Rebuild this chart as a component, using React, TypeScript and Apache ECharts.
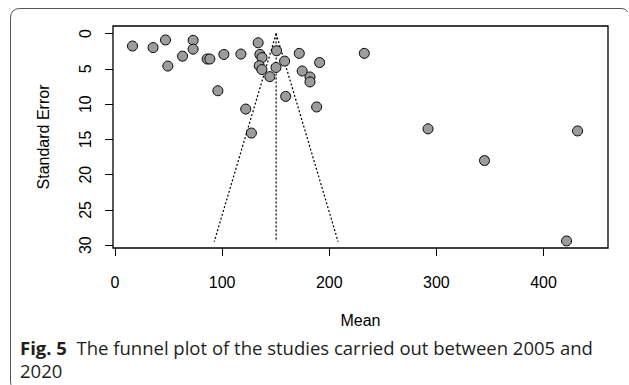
import React, { useEffect, useRef } from "react";
import * as echarts from "echarts";

// Study estimates (Mean) and their standard errors
const studyMeans: number[] = [
  16.3, 35.5, 47.1, 49.3, 63.0, 72.9, 72.9, 86.0, 88.5, 96.0,
  101.6, 117.5, 122.0, 127.3, 133.6, 135.2, 137.2, 134.6, 137.1, 144.5,
  150.3, 150.8, 158.3, 159.3, 172.0, 174.7, 182.0, 182.0, 188.2, 191.0,
  232.7, 292.2, 344.9, 421.5, 431.8,
];
const studySEs: number[] = [
  1.76, 1.98, 0.9, 4.6, 3.2, 0.95, 2.2, 3.6, 3.6, 8.1,
  2.95, 2.9, 10.7, 14.1, 1.3, 2.95, 3.4, 4.55, 5.1, 6.1,
  4.8, 2.43, 3.9, 8.9, 2.8, 5.3, 6.15, 6.85, 10.4, 4.1,
  2.8, 13.5, 18.0, 29.4, 13.8,
];

// Funnel: pooled estimate and the standard-error depth of the funnel
const pooledMean = 150.4;
const funnelSEMax = 29.5;
const zCrit = 1.96;

const xTicks: number[] = [0, 100, 200, 300, 400];
const yTicks: number[] = [0, 5, 10, 15, 20, 25, 30];

const xLabel = "Mean";
const yLabel = "Standard Error";
const captionBold = "Fig. 5";
const captionLine1 = "The funnel plot of the studies carried out between 2005 and";
const captionLine2 = "2020";

echarts.graphic.registerShape(
  "figFrame",
  echarts.graphic.extendPath(
    "M 17 389 Q 10.5 389 10.5 381 L 10.5 18 Q 10.5 8.5 20 8.5 L 622 8.5 Q 626 8.5 627.5 12",
    {}
  ) as any
);

export default function App() {
  const ref = useRef<HTMLDivElement>(null);

  useEffect(() => {
    document.body.style.margin = "0";
    if (!ref.current) return;
    const chart = echarts.init(ref.current, undefined, { renderer: "svg" });

    const points = studyMeans.map((m, i) => [m, studySEs[i]]);
    const halfWidth = zCrit * funnelSEMax;
    const leftLine = [
      [pooledMean, 0],
      [pooledMean - halfWidth, funnelSEMax],
    ];
    const rightLine = [
      [pooledMean, 0],
      [pooledMean + halfWidth, funnelSEMax],
    ];
    const centerLine = [
      [pooledMean, 0],
      [pooledMean, funnelSEMax],
    ];

    const axisFont = {
      fontFamily: "Liberation Sans, Arial, sans-serif",
      fontSize: 16,
      color: "#000",
    };

    const dotted = {
      type: "line",
      showSymbol: false,
      symbol: "none",
      silent: true,
      lineStyle: { color: "#000", width: 1.2, type: [2, 2] },
      z: 2,
    };

    const captionFont = "Open Sans, Noto Sans, sans-serif";

    chart.setOption({
      animation: false,
      backgroundColor: "#fff",
      grid: { left: 113, top: 26, width: 495, height: 222, show: true, borderColor: "#000", borderWidth: 1.3, backgroundColor: "transparent" },
      xAxis: {
        type: "value",
        position: "bottom",
        min: -1.9,
        max: 460.2,
        name: xLabel,
        nameLocation: "middle",
        nameGap: 64,
        nameTextStyle: axisFont,
        splitLine: { show: false },
        axisLine: { show: false, onZero: false },
        axisTick: { show: true, inside: false, length: 8, lineStyle: { color: "#000", width: 1 }, customValues: xTicks },
        axisLabel: { ...axisFont, margin: 26, customValues: xTicks },
      },
      yAxis: {
        type: "value",
        position: "left",
        inverse: true,
        min: -1.08,
        max: 30.4,
        name: yLabel,
        nameLocation: "middle",
        nameRotate: 90,
        nameGap: 62,
        nameTextStyle: axisFont,
        splitLine: { show: false },
        axisLine: { show: false, onZero: false },
        axisTick: { show: true, inside: false, length: 8, lineStyle: { color: "#000", width: 1 }, customValues: yTicks },
        axisLabel: { ...axisFont, margin: 20, rotate: 90, customValues: yTicks },
      },
      series: [
        { ...dotted, data: leftLine },
        { ...dotted, data: rightLine },
        { ...dotted, data: centerLine },
        {
          type: "scatter",
          data: points,
          symbol: "circle",
          symbolSize: 10,
          itemStyle: { color: "#9c9c9c", borderColor: "#000", borderWidth: 1, opacity: 1 },
          z: 3,
        },
      ],
      graphic: [
        {
          type: "figFrame",
          x: 0,
          y: 0,
          style: { fill: "none", stroke: "#555", lineWidth: 1 },
          silent: true,
        },
        {
          type: "text",
          left: 20,
          top: 338,
          style: {
            text: "{b|" + captionBold + "}  " + captionLine1,
            fontFamily: captionFont,
            fontSize: 18.5,
            fill: "#231f20",
            rich: {
              b: { fontWeight: "bold", fontFamily: captionFont, fontSize: 18.5, fill: "#231f20" },
            },
          },
        },
        {
          type: "text",
          left: 20,
          top: 361,
          style: {
            text: captionLine2,
            fontFamily: captionFont,
            fontSize: 18.5,
            fill: "#231f20",
          },
        },
      ],
    });

    return () => chart.dispose();
  }, []);

  return (
    <div
      ref={ref}
      style={{ position: "absolute", left: 0, top: 0, width: 629, height: 385 }}
    />
  );
}
